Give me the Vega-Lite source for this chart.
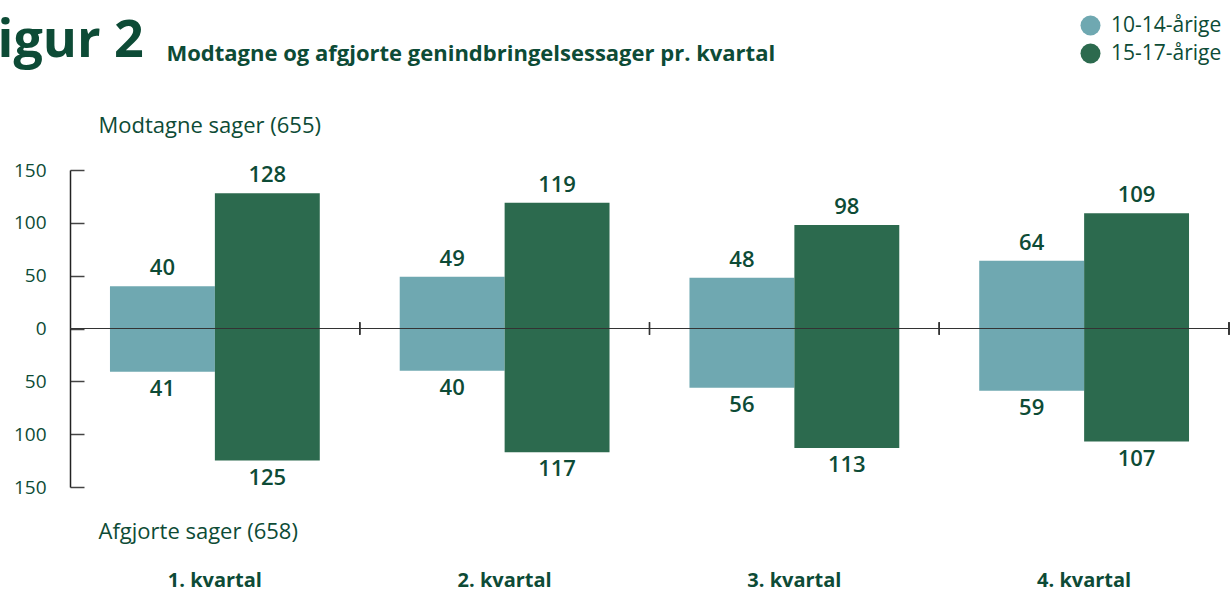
{
  "$schema": "https://vega.github.io/schema/vega-lite/v6.json",
  "autosize": {"type": "none"},
  "padding": {"left": 70, "top": 170, "right": 2, "bottom": 105},
  "width": 1159,
  "height": 317,
  "background": "white",
  "config": {"view": {"stroke": null}, "font": "Open Sans"},
  "title": {"text": "Figur 2", "anchor": "start", "frame": "group", "fontSize": 52, "fontWeight": "bold", "color": "#0d4b36", "dx": -101, "baseline": "alphabetic", "offset": 0, "dy": 94},
  "data": {"values": [
    {"quarter": "1. kvartal", "group": "10-14-årige", "value": 40, "n": 40},
    {"quarter": "1. kvartal", "group": "15-17-årige", "value": 128, "n": 128},
    {"quarter": "1. kvartal", "group": "10-14-årige", "value": -41, "n": 41},
    {"quarter": "1. kvartal", "group": "15-17-årige", "value": -125, "n": 125},
    {"quarter": "2. kvartal", "group": "10-14-årige", "value": 49, "n": 49},
    {"quarter": "2. kvartal", "group": "15-17-årige", "value": 119, "n": 119},
    {"quarter": "2. kvartal", "group": "10-14-årige", "value": -40, "n": 40},
    {"quarter": "2. kvartal", "group": "15-17-årige", "value": -117, "n": 117},
    {"quarter": "3. kvartal", "group": "10-14-årige", "value": 48, "n": 48},
    {"quarter": "3. kvartal", "group": "15-17-årige", "value": 98, "n": 98},
    {"quarter": "3. kvartal", "group": "10-14-årige", "value": -56, "n": 56},
    {"quarter": "3. kvartal", "group": "15-17-årige", "value": -113, "n": 113},
    {"quarter": "4. kvartal", "group": "10-14-årige", "value": 64, "n": 64},
    {"quarter": "4. kvartal", "group": "15-17-årige", "value": 109, "n": 109},
    {"quarter": "4. kvartal", "group": "10-14-årige", "value": -59, "n": 59},
    {"quarter": "4. kvartal", "group": "15-17-årige", "value": -107, "n": 107}
  ]},
  "layer": [
    {
      "mark": {"type": "bar"},
      "encoding": {
        "x": {"field": "quarter", "type": "nominal", "scale": {"paddingInner": 0, "paddingOuter": 0},
          "axis": {"orient": "bottom", "title": "Afgjorte sager (658)", "domain": false, "ticks": false, "labelAngle": 0, "labelFontSize": 20, "labelFontWeight": "bold", "labelColor": "#0d4b36", "labelPadding": 83, "titleX": 28, "titleY": 44, "titleAlign": "left", "titleBaseline": "middle", "titleFontSize": 22, "titleFontWeight": "normal", "titleColor": "#0d4b36"}},
        "xOffset": {"field": "group", "type": "nominal", "scale": {"paddingInner": 0, "paddingOuter": 0.381}},
        "y": {"field": "value", "type": "quantitative", "scale": {"domain": [-150, 150], "nice": false},
          "axis": {"values": [-150, -100, -50, 0, 50, 100, 150], "labelExpr": "abs(datum.value)", "grid": false, "tickSize": -14, "tickColor": "#444", "tickWidth": 1.5, "domainColor": "#222", "domainWidth": 1.5, "labelFontSize": 19, "labelColor": "#0d4b36", "labelPadding": 38, "title": "Modtagne sager (655)", "titleAngle": 0, "titleX": 28, "titleY": -45, "titleAlign": "left", "titleBaseline": "middle", "titleFontSize": 22, "titleFontWeight": "normal", "titleColor": "#0d4b36"}},
        "color": {"field": "group", "type": "nominal", "scale": {"range": ["#6fa8b1", "#2c6a4e"]},
          "legend": {"orient": "none", "legendX": 1010, "legendY": -155, "title": null, "symbolType": "circle", "symbolSize": 400, "labelFontSize": 21, "labelColor": "#0d4b36", "rowPadding": 6, "symbolStrokeWidth": 0, "labelOffset": 10}}
      }
    },
    {
      "transform": [{"filter": "datum.value > 0"}],
      "mark": {"type": "text", "baseline": "bottom", "dy": -6, "fontSize": 22, "fontWeight": 600, "color": "#0d4b36"},
      "encoding": {
        "x": {"field": "quarter", "type": "nominal", "axis": null},
        "xOffset": {"field": "group", "type": "nominal"},
        "y": {"field": "value", "type": "quantitative"},
        "text": {"field": "n", "type": "quantitative"}
      }
    },
    {
      "transform": [{"filter": "datum.value < 0"}],
      "mark": {"type": "text", "baseline": "top", "dy": 7, "fontSize": 22, "fontWeight": 600, "color": "#0d4b36"},
      "encoding": {
        "x": {"field": "quarter", "type": "nominal", "axis": null},
        "xOffset": {"field": "group", "type": "nominal"},
        "y": {"field": "value", "type": "quantitative"},
        "text": {"field": "n", "type": "quantitative"}
      }
    },
    {
      "mark": {"type": "rule", "color": "#333", "strokeWidth": 1.2},
      "encoding": {"y": {"datum": 0}}
    },
    {
      "mark": {"type": "rule", "color": "#333", "strokeWidth": 1.2},
      "encoding": {
        "x": {"field": "quarter", "type": "nominal", "bandPosition": 1,
          "axis": {"orient": "top", "labels": false, "ticks": false, "domain": false, "title": "Modtagne og afgjorte genindbringelsessager pr. kvartal", "titleX": 96, "titleY": -110, "titleAlign": "left", "titleBaseline": "alphabetic", "titleFontSize": 22, "titleFontWeight": "bold", "titleColor": "#0d4b36"}},
        "y": {"datum": -6},
        "y2": {"datum": 6}
      }
    }
  ],
  "resolve": {"axis": {"x": "independent"}}
}
